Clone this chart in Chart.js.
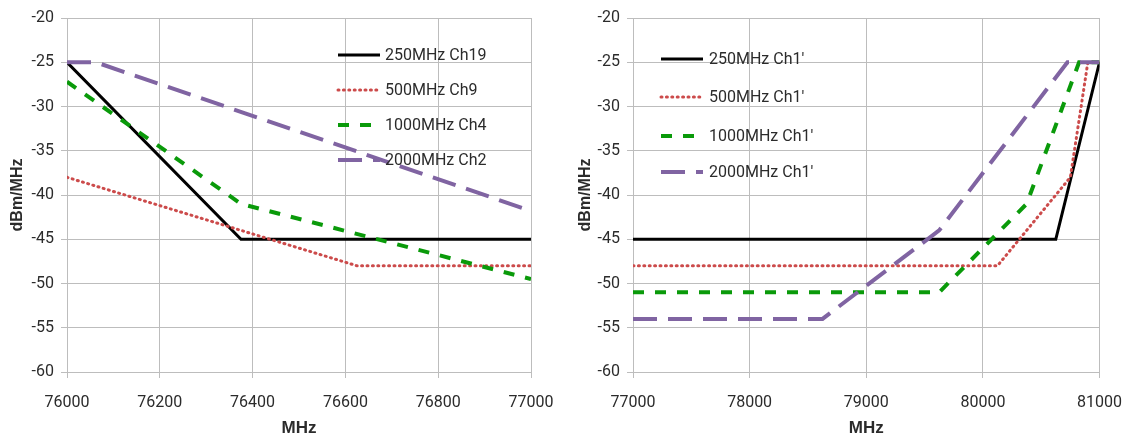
<!DOCTYPE html>
<html>
<head>
<meta charset="utf-8">
<script src="https://cdn.jsdelivr.net/npm/chart.js@4/dist/chart.umd.min.js"></script>
<style>
  html, body { margin: 0; padding: 0; background: #fff; }
  #wrap { position: relative; width: 1131px; height: 439px; }
  canvas { position: absolute; top: 0; }
</style>
</head>
<body>
<div id="wrap">
  <canvas id="chartLeft" width="565" height="439" style="left:0"></canvas>
  <canvas id="chartRight" width="566" height="439" style="left:565px"></canvas>
</div>
<script>
// Dados (máscaras espectrais)
const yTicks = [-60, -55, -50, -45, -40, -35, -30, -25, -20];

// Gráfico esquerdo: 76000 - 77000 MHz
const leftXTicks = [76000, 76200, 76400, 76600, 76800, 77000];
const leftLabels = ['250MHz Ch19', '500MHz Ch9', '1000MHz Ch4', '2000MHz Ch2'];
const left250X = [76000, 76375, 77000];
const left250Y = [-25, -45, -45];
const left500X = [76000, 76625, 77000];
const left500Y = [-38, -48, -48];
const left1000X = [76000, 76375, 77000];
const left1000Y = [-27.2, -41, -49.5];
const left2000X = [76000, 76062, 77000];
const left2000Y = [-25, -25, -41.8];

// Gráfico direito: 77000 - 81000 MHz
const rightXTicks = [77000, 78000, 79000, 80000, 81000];
const rightLabels = ["250MHz Ch1'", "500MHz Ch1'", "1000MHz Ch1'", "2000MHz Ch1'"];
const right250X = [77000, 80625, 81000];
const right250Y = [-45, -45, -25];
const right500X = [77000, 80125, 80750, 80900, 81000];
const right500Y = [-48, -48, -38, -25, -25];
const right1000X = [77000, 79625, 80375, 80825, 81000];
const right1000Y = [-51, -51, -41, -25, -25];
const right2000X = [77000, 78625, 79625, 80725, 81000];
const right2000Y = [-54, -54, -44, -25, -25];

const FONT = "Roboto, 'Open Sans', sans-serif";
const TITLE_FONT = "'Liberation Sans', Arial, sans-serif";
const GRID = '#bdbdbd';
const TEXT = '#2b2b2b';

// Estilos das séries (ordem: 250, 500, 1000, 2000)
const seriesStyles = [
  { borderColor: '#000000', borderWidth: 3, borderDash: [], borderCapStyle: 'butt' },
  { borderColor: '#cc4b4b', borderWidth: 3, borderDash: [1, 4.4], borderCapStyle: 'round' },
  { borderColor: '#0a9a0a', borderWidth: 4, borderDash: [11, 11], borderCapStyle: 'butt' },
  { borderColor: '#8064a2', borderWidth: 4, borderDash: [24, 11], borderCapStyle: 'butt' },
];

const zip = (xs, ys) => xs.map((x, i) => ({ x: x, y: ys[i] }));

function buildDatasets(labels, series) {
  return series.map((s, i) => Object.assign({
    label: labels[i],
    data: zip(s[0], s[1]),
    pointRadius: 0,
    tension: 0,
    fill: false,
    order: series.length - i, // séries posteriores por cima
  }, seriesStyles[i]));
}

// Legenda desenhada dentro da área do gráfico
const insideLegend = {
  id: 'insideLegend',
  afterDatasetsDraw(chart, args, opts) {
    const ctx = chart.ctx;
    ctx.save();
    chart.data.datasets.forEach((ds, i) => {
      const y = opts.ys[i];
      ctx.beginPath();
      ctx.strokeStyle = ds.borderColor;
      ctx.lineWidth = ds.borderWidth;
      ctx.setLineDash(ds.borderDash);
      ctx.lineCap = ds.borderCapStyle;
      ctx.moveTo(opts.x, y);
      ctx.lineTo(opts.x + opts.lineLen, y);
      ctx.stroke();
      ctx.setLineDash([]);
      ctx.fillStyle = TEXT;
      ctx.font = '16px ' + FONT;
      ctx.textBaseline = 'middle';
      ctx.textAlign = 'left';
      ctx.fillText(ds.label, opts.x + opts.lineLen + opts.gap, y + 1);
    });
    ctx.restore();
  }
};

function makeChart(id, labels, series, xTicks, layout) {
  return new Chart(document.getElementById(id), {
    type: 'line',
    data: { datasets: buildDatasets(labels, series) },
    plugins: [insideLegend],
    options: {
      responsive: false,
      animation: false,
      layout: { padding: { top: 18, right: layout.padRight, bottom: 0, left: 0 } },
      plugins: {
        legend: { display: false },
        tooltip: { enabled: false },
        insideLegend: layout.legend,
      },
      scales: {
        x: {
          type: 'linear',
          min: xTicks[0],
          max: xTicks[xTicks.length - 1],
          afterBuildTicks: s => { s.ticks = xTicks.map(v => ({ value: v })); },
          afterFit: s => { s.height = 67; },
          grid: { color: GRID, lineWidth: 1, tickLength: 6 },
          border: { color: GRID },
          ticks: {
            color: TEXT,
            font: { family: FONT, size: 16, lineHeight: 2 },
            padding: 9,
            maxRotation: 0,
            callback: v => String(v),
          },
          title: {
            display: true,
            text: 'MHz',
            color: TEXT,
            font: { family: TITLE_FONT, size: 17, weight: 'bold' },
            padding: { top: 0, bottom: 0 },
          },
        },
        y: {
          type: 'linear',
          min: -60,
          max: -20,
          afterBuildTicks: s => { s.ticks = yTicks.map(v => ({ value: v })); },
          afterFit: s => { s.width = layout.axisWidth; },
          grid: { color: GRID, lineWidth: 1, tickLength: 6 },
          border: { color: GRID },
          ticks: {
            color: TEXT,
            font: { family: FONT, size: 16 },
            padding: 7,
            callback: v => String(v),
          },
          title: {
            display: true,
            text: 'dBm/MHz',
            color: TEXT,
            font: { family: TITLE_FONT, size: 16, weight: 'bold' },
            padding: { top: layout.titlePad, bottom: 0 },
          },
        },
      },
    },
  });
}

makeChart('chartLeft', leftLabels,
  [[left250X, left250Y], [left500X, left500Y], [left1000X, left1000Y], [left2000X, left2000Y]],
  leftXTicks,
  { padRight: 34, axisWidth: 67, titlePad: 8, legend: { x: 338, lineLen: 42, gap: 5, ys: [55, 90, 125, 160] } });

makeChart('chartRight', rightLabels,
  [[right250X, right250Y], [right500X, right500Y], [right1000X, right1000Y], [right2000X, right2000Y]],
  rightXTicks,
  { padRight: 31, axisWidth: 68, titlePad: 11, legend: { x: 96, lineLen: 42, gap: 6, ys: [59, 97, 136, 172] } });
</script>
</body>
</html>
